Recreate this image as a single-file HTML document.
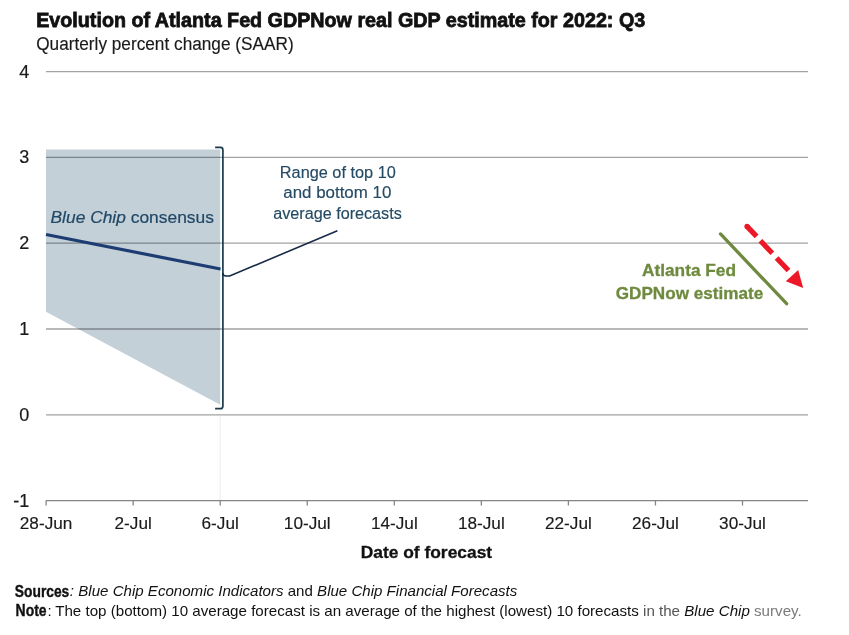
<!DOCTYPE html>
<html><head><meta charset="utf-8">
<style>
html,body{margin:0;padding:0;background:#fff;width:849px;height:635px;overflow:hidden}
svg{display:block}
text{font-family:"Liberation Sans",sans-serif}
</style></head>
<body>
<svg width="849" height="635" viewBox="0 0 849 635">
<!-- title -->
<text x="36.2" y="26.6" font-size="20.8" font-weight="700" fill="#111" stroke="#111" stroke-width="0.8" textLength="609" lengthAdjust="spacingAndGlyphs">Evolution of Atlanta Fed GDPNow real GDP estimate for 2022: Q3</text>
<text x="36.2" y="49.9" font-size="17.6" fill="#1a1a1a" stroke="#1a1a1a" stroke-width="0.15" textLength="257.5" lengthAdjust="spacingAndGlyphs">Quarterly percent change (SAAR)</text>

<!-- shaded range -->
<polygon points="46,149.4 220.2,149.4 220.2,404.8 46,311.8" fill="#c3d0d8"/>

<!-- gridlines -->
<g stroke="#a2a2a2" stroke-width="1.3" style="mix-blend-mode:multiply">
<line x1="46" y1="71.6" x2="808" y2="71.6"/>
<line x1="46" y1="157.4" x2="808" y2="157.4"/>
<line x1="46" y1="243.2" x2="808" y2="243.2"/>
<line x1="46" y1="329" x2="808" y2="329"/>
<line x1="46" y1="414.8" x2="808" y2="414.8"/>
<line x1="46" y1="500.6" x2="808" y2="500.6" stroke="#858585"/>
</g>
<!-- ticks -->
<g stroke="#858585" stroke-width="1.3">
<line x1="46.1" y1="500.6" x2="46.1" y2="505.5"/>
<line x1="133.15" y1="500.6" x2="133.15" y2="505.5"/>
<line x1="220.2" y1="500.6" x2="220.2" y2="505.5"/>
<line x1="307.25" y1="500.6" x2="307.25" y2="505.5"/>
<line x1="394.3" y1="500.6" x2="394.3" y2="505.5"/>
<line x1="481.35" y1="500.6" x2="481.35" y2="505.5"/>
<line x1="568.4" y1="500.6" x2="568.4" y2="505.5"/>
<line x1="655.45" y1="500.6" x2="655.45" y2="505.5"/>
<line x1="742.5" y1="500.6" x2="742.5" y2="505.5"/>
</g>
<line x1="220.2" y1="416" x2="220.2" y2="500" stroke="#ececec" stroke-width="1"/>

<!-- y labels -->
<g font-size="18" fill="#1a1a1a" stroke="#1a1a1a" stroke-width="0.2" text-anchor="end">
<text x="29.3" y="77.7">4</text>
<text x="29.3" y="162.9">3</text>
<text x="29.3" y="248.9">2</text>
<text x="29.3" y="334.8">1</text>
<text x="29.3" y="420.7">0</text>
<text x="29.3" y="506.5">-1</text>
</g>
<!-- x labels -->
<g font-size="17.2" fill="#1a1a1a" stroke="#1a1a1a" stroke-width="0.15" text-anchor="middle">
<text x="46.1" y="529">28-Jun</text>
<text x="133.15" y="529">2-Jul</text>
<text x="220.2" y="529">6-Jul</text>
<text x="307.25" y="529">10-Jul</text>
<text x="394.3" y="529">14-Jul</text>
<text x="481.35" y="529">18-Jul</text>
<text x="568.4" y="529">22-Jul</text>
<text x="655.45" y="529">26-Jul</text>
<text x="742.5" y="529">30-Jul</text>
</g>
<text x="426.4" y="557.7" font-size="17.4" font-weight="700" fill="#111" stroke="#111" stroke-width="0.3" text-anchor="middle" textLength="131.5" lengthAdjust="spacingAndGlyphs">Date of forecast</text>

<!-- consensus line -->
<line x1="46" y1="234.5" x2="220.5" y2="269" stroke="#1d3d72" stroke-width="3.2"/>
<text x="50.5" y="222.7" font-size="17.4" fill="#214866" stroke="#214866" stroke-width="0.2"><tspan font-style="italic">Blue Chip</tspan> consensus</text>

<!-- bracket -->
<path d="M215.1,147.4 L220.4,147.4 Q222.9,147.4 222.9,150 L222.9,405.9 Q222.9,408.7 220.2,408.7 L215.1,408.7" fill="none" stroke="#1c3a4c" stroke-width="1.7"/>
<path d="M222.9,273 Q222.9,276 226,276 L229.7,276 L337.4,230.8" fill="none" stroke="#172a48" stroke-width="1.6"/>
<g font-size="16" fill="#244a64" stroke="#244a64" stroke-width="0.15" text-anchor="middle">
<text x="337.8" y="177.6" textLength="116" lengthAdjust="spacingAndGlyphs">Range of top 10</text>
<text x="337.3" y="198.3" textLength="108" lengthAdjust="spacingAndGlyphs">and bottom 10</text>
<text x="337.5" y="219.1" textLength="128.5" lengthAdjust="spacingAndGlyphs">average forecasts</text>
</g>

<!-- GDPNow -->
<line x1="720.5" y1="233.9" x2="786.6" y2="303.7" stroke="#6f8940" stroke-width="3.3" stroke-linecap="round"/>
<g font-size="17" font-weight="700" fill="#6e8a3e" stroke="#6e8a3e" stroke-width="0.3" text-anchor="middle">
<text x="689" y="276" textLength="94" lengthAdjust="spacingAndGlyphs">Atlanta Fed</text>
<text x="689.5" y="298.9" textLength="147.5" lengthAdjust="spacingAndGlyphs">GDPNow estimate</text>
</g>
<!-- red arrow -->
<g stroke="#ec1828" stroke-width="5.2">
<line x1="747" y1="226.4" x2="756.6" y2="236.4"/>
<line x1="760.4" y1="240.8" x2="772.3" y2="253.2"/>
<line x1="776.6" y1="258" x2="788.5" y2="270.5"/>
</g>
<polygon points="785.8,281.3 798.2,270 803.2,288" fill="#ec1828"/>
<circle cx="747" cy="226.4" r="2.6" fill="#ec1828"/>

<!-- footer -->
<g font-size="15" fill="#111">
<text x="14.8" y="596.5" font-size="15.8" font-weight="700" stroke="#111" stroke-width="0.35" textLength="54.5" lengthAdjust="spacingAndGlyphs">Sources</text>
<text x="69.8" y="596.4" font-style="italic">:</text>
<text x="78.3" y="596.4" textLength="439" lengthAdjust="spacingAndGlyphs"><tspan font-style="italic">Blue Chip Economic Indicators</tspan> and <tspan font-style="italic">Blue Chip Financial Forecasts</tspan></text>
<text x="15.6" y="615.7" font-size="15.8" font-weight="700" stroke="#111" stroke-width="0.35" textLength="31" lengthAdjust="spacingAndGlyphs">Note</text>
<text x="47.4" y="615.6">:</text>
<text x="55.2" y="615.6" textLength="746.5" lengthAdjust="spacingAndGlyphs">The top (bottom) 10 average forecast is an average of the highest (lowest) 10 forecasts <tspan fill="#555">in the</tspan> <tspan font-style="italic">Blue Chip</tspan> <tspan fill="#7a7a7a">survey.</tspan></text>
</g>
</svg>
</body></html>
